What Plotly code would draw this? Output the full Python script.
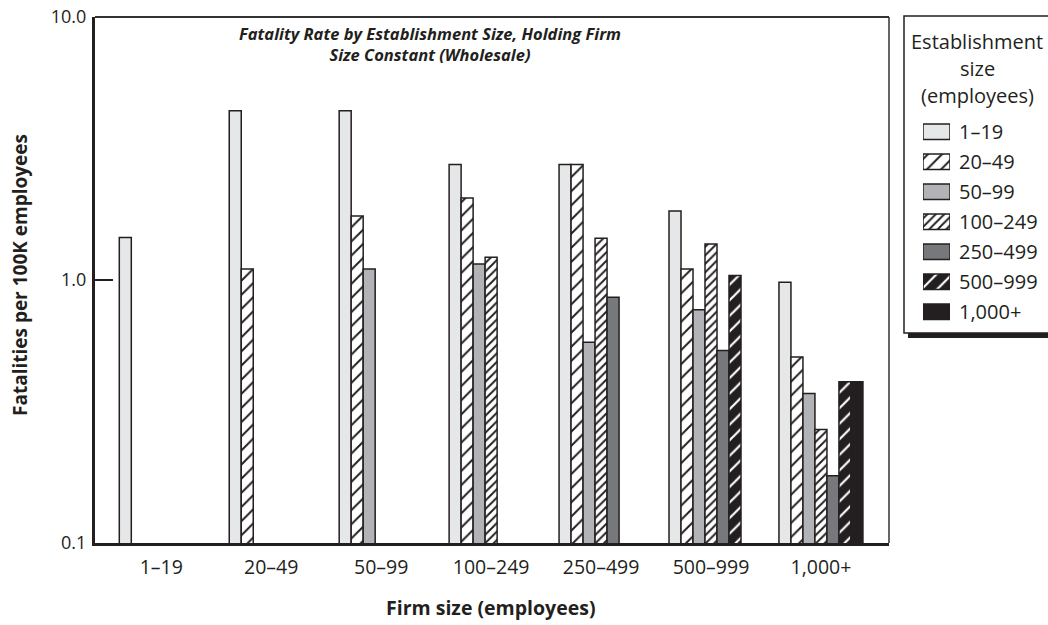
import plotly.graph_objects as go

# Firm-size groups on the x axis and establishment-size series
firm_sizes = ["1–19", "20–49", "50–99", "100–249", "250–499", "500–999", "1,000+"]
est_sizes = ["1–19", "20–49", "50–99", "100–249", "250–499", "500–999", "1,000+"]

# Fatalities per 100K employees, one list per establishment size (by firm size)
rate_est_1_19 = [1.45, 4.4, 4.4, 2.75, 2.75, 1.83, 0.98]
rate_est_20_49 = [None, 1.1, 1.75, 2.05, 2.75, 1.1, 0.51]
rate_est_50_99 = [None, None, 1.1, 1.15, 0.58, 0.77, 0.37]
rate_est_100_249 = [None, None, None, 1.22, 1.44, 1.37, 0.27]
rate_est_250_499 = [None, None, None, None, 0.86, 0.54, 0.18]
rate_est_500_999 = [None, None, None, None, None, 1.04, 0.41]
rate_est_1000_plus = [None, None, None, None, None, None, 0.41]

y_tick_vals = [0.1, 1, 10]
y_tick_text = ["0.1", "1.0", "10.0"]

series = [rate_est_1_19, rate_est_20_49, rate_est_50_99, rate_est_100_249,
          rate_est_250_499, rate_est_500_999, rate_est_1000_plus]

INK = "#231f20"
FONT = "Open Sans"

# fill style per establishment size: (background, hatch shape, hatch colour, period, solidity)
styles = [
    ("#e6e7e8", "", INK, 8, 0.2),
    ("#ffffff", "/", INK, 10, 0.2),
    ("#b1b3b6", "", INK, 8, 0.2),
    ("#ffffff", "/", INK, 6, 0.32),
    ("#76787b", "", INK, 8, 0.2),
    (INK, "/", "#ffffff", 11, 0.2),
    (INK, "", INK, 8, 0.2),
]

W, H = 1048, 625
ML, MR, MT, MB = 95, 0, 17, 82
PW, PH = W - ML - MR, H - MT - MB


def px_x(x):
    return (x - ML) / PW


def px_y(y):
    return (H - MB - y) / PH


fig = go.Figure()

for name, vals, (bg, shape, fg, size, sol) in zip(est_sizes, series, styles):
    fig.add_trace(go.Bar(
        x=firm_sizes, y=vals, name=name, showlegend=False,
        marker=dict(color=bg, line=dict(color=INK, width=1.5),
                    pattern=dict(shape=shape, fgcolor=fg, bgcolor=bg,
                                 size=size, solidity=sol, fillmode="replace")),
        xaxis="x", yaxis="y",
    ))

# key swatches, one short bar per establishment size
for name, (bg, shape, fg, size, sol) in zip(est_sizes, styles):
    fig.add_trace(go.Bar(
        x=[1], y=[name], orientation="h", width=0.52, showlegend=False,
        marker=dict(color=bg, line=dict(color=INK, width=1.5),
                    pattern=dict(shape=shape, fgcolor=fg, bgcolor=bg,
                                 size=size, solidity=sol, fillmode="replace")),
        xaxis="x2", yaxis="y2", hoverinfo="skip",
    ))

fig.update_layout(
    width=W, height=H,
    margin=dict(l=ML, r=MR, t=MT, b=MB),
    paper_bgcolor="white", plot_bgcolor="rgba(0,0,0,0)",
    barmode="group", bargap=0.236, bargroupgap=0,
    font=dict(family=FONT, color=INK),
    xaxis=dict(domain=[0, px_x(889)], type="category", range=[-0.603, 6.619],
               showline=True, linewidth=3, linecolor=INK, ticks="",
               showgrid=False, zeroline=False,
               tickfont=dict(size=19.5, color=INK), ticklabelstandoff=5),
    yaxis=dict(domain=[0, 1], type="log", range=[-1, 1],
               tickvals=y_tick_vals, ticktext=y_tick_text,
               showline=True, linewidth=3, linecolor=INK,
               ticks="inside", ticklen=18, tickwidth=1.5, tickcolor=INK,
               showgrid=False, zeroline=False,
               tickfont=dict(size=18, color=INK), ticklabelstandoff=2),
    xaxis2=dict(domain=[px_x(923), px_x(950)], range=[0, 1], visible=False,
                anchor="y2", fixedrange=True),
    yaxis2=dict(domain=[px_y(326.7), px_y(116.7)], type="category",
                categoryorder="array", categoryarray=est_sizes,
                range=[6.5, -0.5], anchor="x2", side="right",
                showline=False, ticks="", showgrid=False, zeroline=False,
                tickfont=dict(size=20, color=INK), ticklabelstandoff=8,
                fixedrange=True),
)

shapes = [
    # key box with drop shadow
    dict(type="rect", xref="paper", yref="paper",
         x0=px_x(908), x1=1.2, y0=px_y(338), y1=px_y(20),
         fillcolor=INK, line=dict(width=0), layer="below"),
    dict(type="rect", xref="paper", yref="paper",
         x0=px_x(904), x1=1.1, y0=px_y(333), y1=px_y(16),
         fillcolor="white", line=dict(color=INK, width=1.5), layer="below"),
    # thin frame on top and right of the plot
    dict(type="line", xref="x domain", yref="y domain", x0=0, x1=1, y0=1, y1=1,
         line=dict(color="#333333", width=2)),
    dict(type="line", xref="x domain", yref="y domain", x0=1, x1=1, y0=0, y1=1,
         line=dict(color="#333333", width=1.5)),
]
fig.update_layout(shapes=shapes)

annotations = [
    dict(text="<b><i>Fatality Rate by Establishment Size, Holding Firm<br>"
              "Size Constant (Wholesale)</i></b>",
         x=px_x(430), y=px_y(44.5), xref="paper", yref="paper",
         xanchor="center", yanchor="middle", showarrow=False,
         font=dict(size=16.5, color=INK)),
    dict(text="<b>Firm size (employees)</b>",
         x=px_x(491), y=px_y(607), xref="paper", yref="paper",
         xanchor="center", yanchor="middle", showarrow=False,
         font=dict(size=19.5, color=INK)),
    dict(text="<b>Fatalities per 100K employees</b>",
         x=px_x(20), y=px_y(275), xref="paper", yref="paper",
         xanchor="center", yanchor="middle", showarrow=False, textangle=-90,
         font=dict(size=19, color=INK)),
]
for txt, yc in [("Establishment", 41.7), ("size", 68), ("(employees)", 95)]:
    annotations.append(dict(text=txt, x=px_x(977), y=px_y(yc),
                            xref="paper", yref="paper",
                            xanchor="center", yanchor="middle",
                            showarrow=False, font=dict(size=20, color=INK)))
fig.update_layout(annotations=annotations)

fig.write_html("out.html")
